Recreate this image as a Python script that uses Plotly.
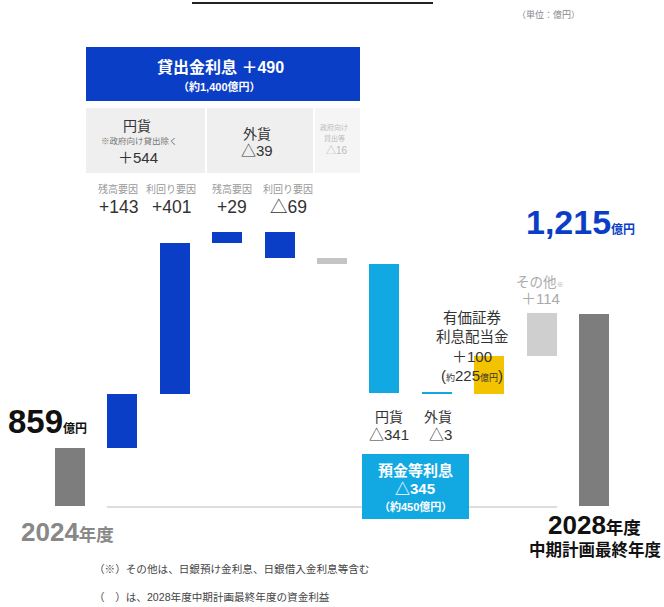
import plotly.graph_objects as go

# ---------------- data ----------------
categories = ["2024年度", "円貨 残高要因", "円貨 利回り要因", "外貨 残高要因", "外貨 利回り要因",
              "政府向け貸出", "預金 円貨", "預金 外貨", "有価証券利息配当金", "その他", "2028年度"]
start_value = 859
end_value = 1215
deltas = [143, 401, 29, -69, -16, -341, -3, 100, 114]
delta_labels = ["+143", "+401", "+29", "△69"]
delta_sublabels = ["残高要因", "利回り要因", "残高要因", "利回り要因"]
axis_floor = 705  # visual baseline of the broken axis

# ---------------- build bars ----------------
bases, heights = [], []
bases.append(axis_floor)
heights.append(start_value - axis_floor)
run = start_value
for d in deltas:
    if d >= 0:
        bases.append(run)
        heights.append(d)
    else:
        bases.append(run + d)
        heights.append(-d)
    run += d
bases.append(axis_floor)
heights.append(end_value - axis_floor)

BLUE = "#0b3ec6"
CYAN = "#12a9e3"
YELLOW = "#f3c300"
LGRAY = "#cfcfcf"
DGRAY = "#7d7d7d"
colors = [DGRAY, BLUE, BLUE, BLUE, BLUE, "#c4c4c4", CYAN, CYAN, YELLOW, LGRAY, DGRAY]

W, H = 664, 607
x_idx = list(range(len(categories)))

fig = go.Figure()
fig.add_trace(go.Bar(x=x_idx, y=heights, base=bases, marker=dict(color=colors, line=dict(width=0)),
                     width=0.57, hovertext=categories, hoverinfo="text"))

def px(x):
    return x / W

def py(y):
    return 1 - y / H

FONT = "Liberation Sans, Noto Sans CJK JP"
ann = []

def S(text, size):
    return "<span style='font-size:%gpx'>%s</span>" % (size, text)

def T(x, y, text, size=12, color="#333333", xanchor="center", bold=False):
    if bold:
        text = "<b>" + text + "</b>"
    ann.append(dict(x=px(x), y=py(y), xref="paper", yref="paper", text=text, showarrow=False,
                    xanchor=xanchor, yanchor="middle", borderpad=0,
                    font=dict(family=FONT, size=size, color=color)))

shapes = []

def R(x0, y0, x1, y1, color):
    shapes.append(dict(type="rect", xref="paper", yref="paper", x0=px(x0), x1=px(x1),
                       y0=py(y1), y1=py(y0), fillcolor=color, line=dict(width=0), layer="below"))

# top decorative line
shapes.append(dict(type="line", xref="paper", yref="paper", x0=px(192), x1=px(433), y0=py(3), y1=py(3),
                   line=dict(color="#222222", width=2)))
# baseline axis
shapes.append(dict(type="line", xref="paper", yref="paper", x0=px(107), x1=px(557), y0=py(507), y1=py(507),
                   line=dict(color="#bbbbbb", width=1), layer="below"))

# header boxes
R(86, 47, 360, 101, BLUE)
R(86, 108, 205, 173, "#efefef")
R(207, 108, 313, 173, "#efefef")
R(315, 108, 360, 173, "#f5f5f5")
# deposit box
shapes.append(dict(type="rect", xref="paper", yref="paper", x0=px(362), x1=px(469), y0=py(519), y1=py(454),
                   fillcolor=CYAN, line=dict(width=0), layer="above"))

T(548, 14, "（単位：億円）", size=9, color="#888888")

T(221, 67, "貸出金利息 ＋490", size=16, color="white", bold=True)
T(219, 86, "（約1,400億円）", size=11, color="white", bold=True)

T(137, 126, "円貨", size=14, color="#333333")
T(139, 140.5, "※政府向け貸出除く", size=8.5, color="#777777")
T(138, 157.5, "＋544", size=15, color="#333333")
T(257, 134, "外貨", size=14, color="#333333")
T(257, 151, "△39", size=15, color="#333333")
T(334, 128, "政府向け", size=7, color="#bbbbbb")
T(334, 138.5, "貸出等", size=7, color="#bbbbbb")
T(337, 150.5, "△16", size=10, color="#bbbbbb")

sub_x = [118, 171, 232, 288]
for i in range(4):
    T(sub_x[i], 189, delta_sublabels[i], size=10, color="#9a9a9a")
    T(sub_x[i], 206.5, delta_labels[i], size=17.5, color="#333333")

T(7, 421, "<b>859</b>" + S("<b>億円</b>", 12), size=33, color="#111111", xanchor="left")
T(525, 222, "<b>1,215</b>" + S("<b>億円</b>", 12), size=34, color=BLUE, xanchor="left")

T(20, 532, "<b>2024</b>" + S("<b>年度</b>", 17.5), size=26, color="#888888", xanchor="left")
T(594, 525, "<b>2028</b>" + S("<b>年度</b>", 17.5), size=26, color="#111111")
T(595, 549, "中期計画最終年度", size=16.5, color="#111111", bold=True)

T(389, 416.5, "円貨", size=14, color="#333333")
T(389, 434, "△341", size=15, color="#333333")
T(438, 416.5, "外貨", size=14, color="#333333")
T(440, 434, "△3", size=15, color="#333333")

T(415, 470, "預金等利息", size=15, color="white", bold=True)
T(415, 488, "△345", size=15, color="white", bold=True)
T(415, 506, "（約450億円）", size=11, color="white", bold=True)

T(472, 318, "有価証券", size=14.5, color="#333333")
T(472, 337, "利息配当金", size=14.5, color="#333333")
T(472, 356, "＋100", size=15, color="#333333")
T(472, 375, "(" + S("約", 9) + "225" + S("億円", 9) + ")", size=15, color="#333333")

T(540, 282, "その他" + S("※", 7), size=13.5, color="#aaaaaa")
T(540, 298.5, "＋114", size=15, color="#aaaaaa")

T(93, 569, "（※）その他は、日銀預け金利息、日銀借入金利息等含む", size=10.6, color="#444444", xanchor="left")
T(93, 597, "（　）は、2028年度中期計画最終年度の資金利益", size=10.6, color="#444444", xanchor="left")

# axes ranges computed from pixel geometry
x0c, step = 70.0, 52.4
xr = [(0 - x0c) / step, (W - x0c) / step]
ppu = 134 / 356.0
y_base_px = 506
yr = [axis_floor - (H - y_base_px) / ppu, axis_floor + y_base_px / ppu]

fig.update_layout(
    width=W, height=H, margin=dict(l=0, r=0, t=0, b=0),
    paper_bgcolor="white", plot_bgcolor="white", showlegend=False,
    xaxis=dict(range=xr, visible=False, fixedrange=True),
    yaxis=dict(range=yr, visible=False, fixedrange=True),
    annotations=ann, shapes=shapes, bargap=0,
    font=dict(family=FONT),
)

fig.write_html("out.html")
